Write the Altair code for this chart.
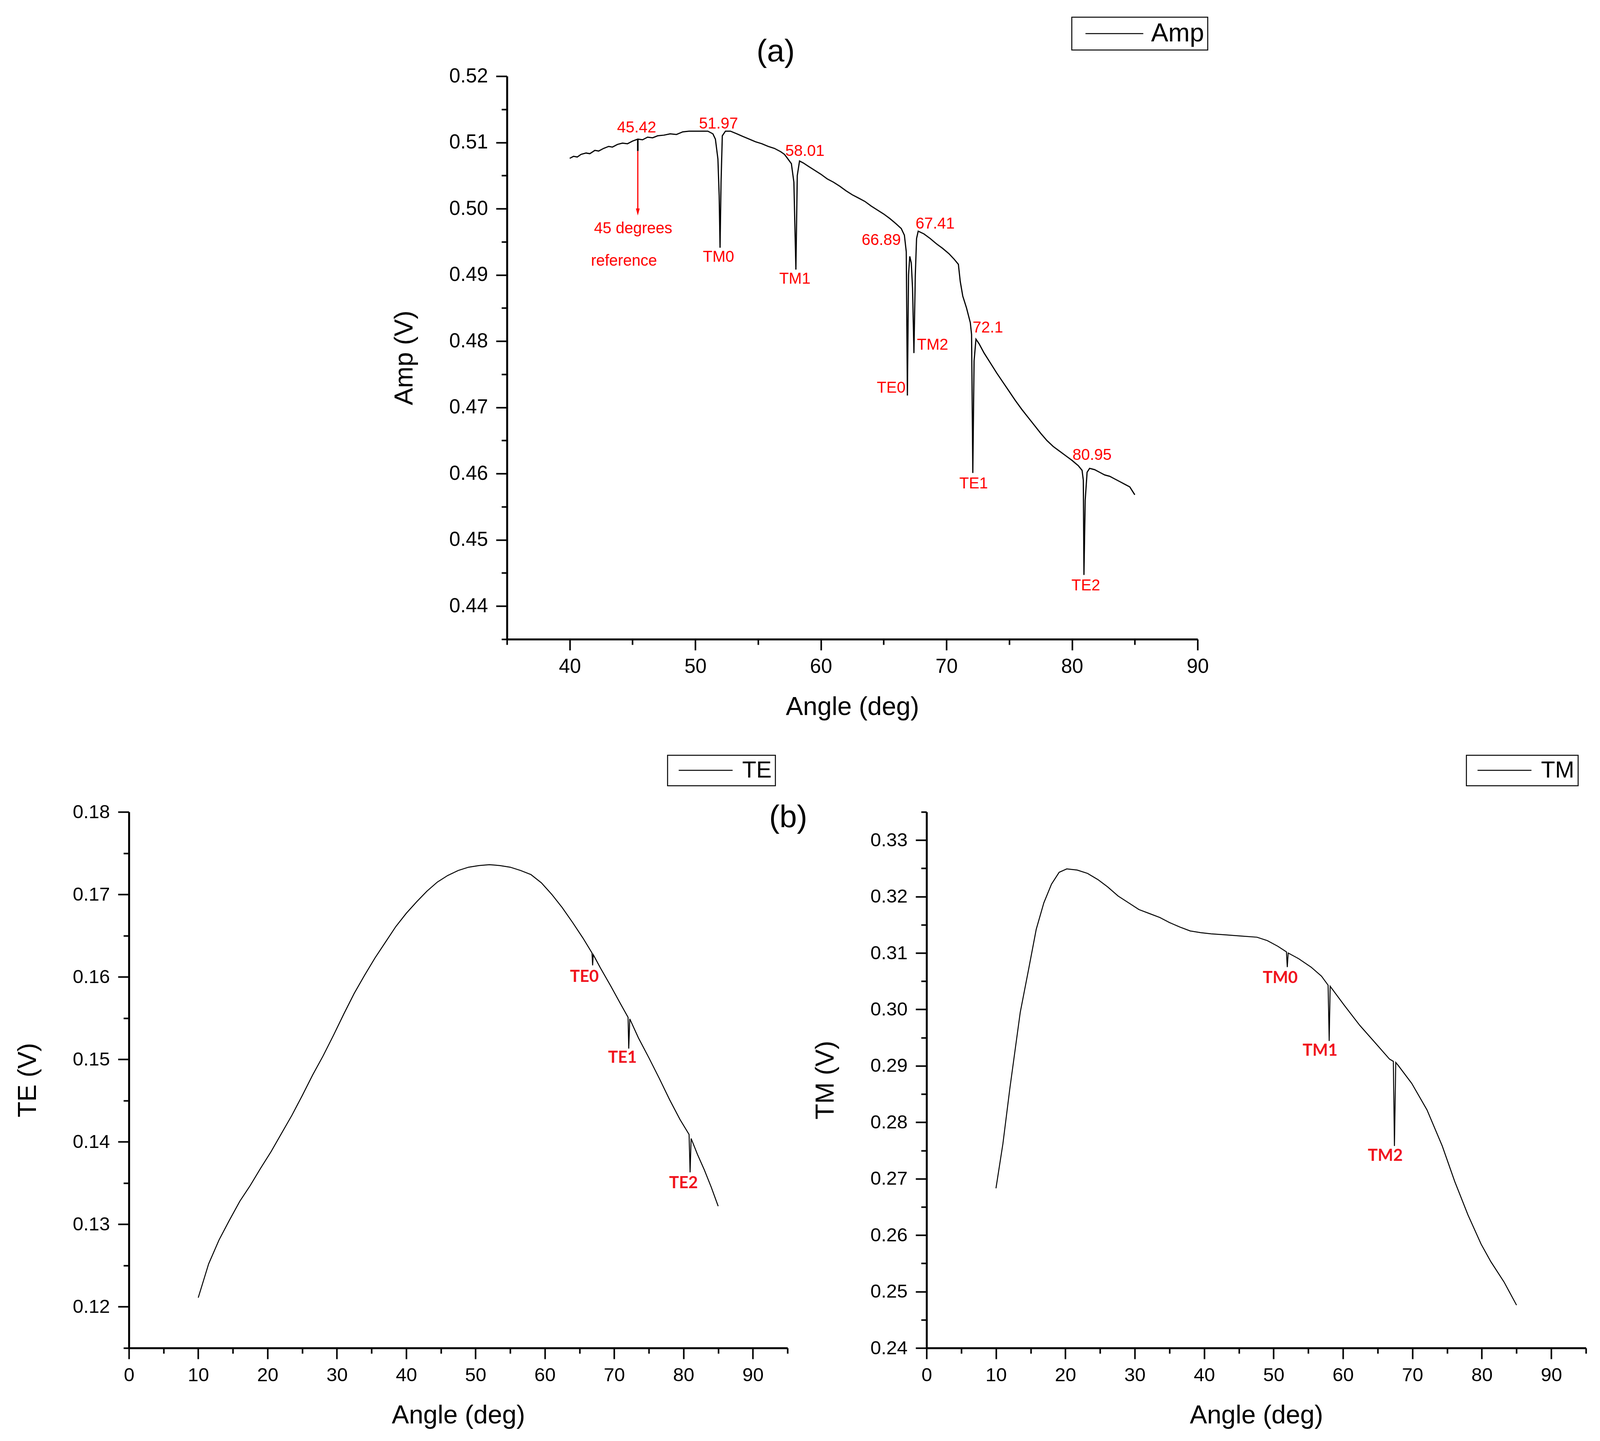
import altair as alt
import pandas as pd

FONT = "Liberation Sans"

# ---------------- panel (a): amplitude ----------------
amp_angle = [40.0, 40.3, 40.6, 40.9, 41.3, 41.6, 42.0, 42.3, 42.7, 43.1, 43.4, 43.8,
             44.2, 44.6, 45.0, 45.42, 45.8, 46.2, 46.6, 47.0, 47.5, 48.0, 48.5, 49.0,
             49.5, 50.0, 50.5, 51.0, 51.4, 51.6, 51.8, 51.9, 51.97, 52.05, 52.15, 52.4,
             52.8, 53.3, 53.8, 54.3, 54.8, 55.3, 55.8, 56.3, 56.8, 57.1, 57.3, 57.65,
             57.85, 58.01, 58.12, 58.3, 58.6, 59.0, 59.5, 60.0, 60.5, 61.0, 61.5, 62.0,
             62.5, 63.0, 63.5, 64.0, 64.5, 65.0, 65.5, 66.0, 66.4, 66.65, 66.8, 66.89,
             66.98, 67.08, 67.2, 67.3, 67.41, 67.52, 67.62, 67.75, 68.2, 68.7, 69.2, 69.7,
             70.2, 70.6, 70.95, 71.1, 71.3, 71.6, 71.9, 72.0, 72.1, 72.2, 72.35, 72.6,
             73.0, 73.5, 74.0, 74.5, 75.0, 75.5, 76.0, 76.5, 77.0, 77.5, 78.0, 78.5,
             79.0, 79.5, 80.0, 80.5, 80.8, 80.9, 80.95, 81.05, 81.2, 81.4, 81.8, 82.2,
             82.6, 83.0, 83.4, 83.8, 84.2, 84.6, 85.0]
amp_volt = [0.5076, 0.5079, 0.5078, 0.5082, 0.5084, 0.5083, 0.5088, 0.5087, 0.5091, 0.5094, 0.5093, 0.5097,
            0.5099, 0.5098, 0.5102, 0.5105, 0.5104, 0.5108, 0.5107, 0.5110, 0.5111, 0.5113, 0.5112, 0.5116,
            0.5117, 0.5117, 0.5117, 0.5117, 0.5113, 0.5105, 0.5075, 0.5020, 0.4941, 0.5040, 0.5110, 0.5117,
            0.5117, 0.5113, 0.5109, 0.5105, 0.5101, 0.5098, 0.5094, 0.5091, 0.5086, 0.5082, 0.5077, 0.5068,
            0.5040, 0.4908, 0.5050, 0.5072, 0.5069, 0.5064, 0.5058, 0.5052, 0.5045, 0.5040, 0.5034, 0.5027,
            0.5021, 0.5016, 0.5011, 0.5004, 0.4998, 0.4992, 0.4985, 0.4977, 0.4970, 0.4960, 0.4935, 0.4718,
            0.4900, 0.4928, 0.4918, 0.4880, 0.4782, 0.4900, 0.4955, 0.4966, 0.4962, 0.4955, 0.4947, 0.4940,
            0.4932, 0.4924, 0.4916, 0.4890, 0.4868, 0.4850, 0.4828, 0.4810, 0.4601, 0.4770, 0.4803, 0.4796,
            0.4782, 0.4767, 0.4752, 0.4738, 0.4724, 0.4710, 0.4697, 0.4685, 0.4673, 0.4661, 0.4650, 0.4641,
            0.4634, 0.4627, 0.4620, 0.4612, 0.4605, 0.4590, 0.4447, 0.4560, 0.4602, 0.4608, 0.4606, 0.4602,
            0.4598, 0.4596, 0.4592, 0.4588, 0.4584, 0.4580, 0.4568]
amp_note_text = ["45.42", "51.97", "58.01", "45 degrees", "reference", "TM0", "TM1",
                 "66.89", "67.41", "TM2", "TE0", "72.1", "TE1", "80.95", "TE2"]
amp_note_x = [45.33, 51.85, 58.73, 45.05, 44.32, 51.85, 57.93,
              64.81, 69.1, 68.9, 65.6, 73.3, 72.17, 81.6, 81.1]
amp_note_y = [0.5122, 0.5128, 0.5087, 0.4970, 0.4921, 0.4927, 0.4894,
              0.4952, 0.4977, 0.4794, 0.4729, 0.4820, 0.4585, 0.4628, 0.4431]
arrow_x = 45.42
arrow_top = 0.5105
arrow_split = 0.5087
arrow_end = 0.4998
arrow_head = 0.4995

a_x_major = [40, 50, 60, 70, 80, 90]
a_x_minor = [35, 45, 55, 65, 75, 85]
a_y_major = [0.44, 0.45, 0.46, 0.47, 0.48, 0.49, 0.50, 0.51, 0.52]
a_y_minor = [0.435, 0.445, 0.455, 0.465, 0.475, 0.485, 0.495, 0.505, 0.515]

# ---------------- panel (b): TE ----------------
te_angle = [10.0, 11.5, 13.0, 14.5, 16.0, 17.5, 19.0, 20.5, 22.0, 23.5, 25.0, 26.5,
            28.0, 29.5, 31.0, 32.5, 34.0, 35.5, 37.0, 38.5, 40.0, 41.5, 43.0, 44.5,
            46.0, 47.5, 49.0, 50.5, 52.0, 53.5, 55.0, 56.5, 58.0, 59.5, 61.0, 62.5,
            64.0, 65.5, 66.8, 66.89, 66.98, 68.0, 69.5, 71.0, 72.0, 72.1, 72.25, 73.5,
            75.0, 76.5, 78.0, 79.5, 80.8, 80.95, 81.1, 82.0, 83.0, 84.0, 85.0]
te_volt = [0.1211, 0.1252, 0.1281, 0.1305, 0.1328, 0.1347, 0.1368, 0.1388, 0.1410, 0.1432, 0.1456, 0.1481,
           0.1504, 0.1529, 0.1555, 0.1580, 0.1602, 0.1623, 0.1642, 0.1661, 0.1677, 0.1691, 0.1704, 0.1715,
           0.1723, 0.1729, 0.1733, 0.1735, 0.1736, 0.1735, 0.1733, 0.1729, 0.1724, 0.1714, 0.1700, 0.1684,
           0.1666, 0.1647, 0.1629, 0.1614, 0.1627, 0.1611, 0.1589, 0.1566, 0.1551, 0.1513, 0.1549, 0.1526,
           0.1502, 0.1477, 0.1451, 0.1427, 0.1409, 0.1363, 0.1404, 0.1385, 0.1366, 0.1345, 0.1322]
te_note_text = ["TE0", "TE1", "TE2"]
te_note_x = [65.7, 71.2, 80.0]
te_note_y = [0.1600, 0.1502, 0.1350]

# ---------------- panel (c): TM ----------------
tm_angle = [10.0, 11.0, 12.0, 13.5, 14.7, 15.8, 16.9, 18.0, 19.1, 20.2, 21.7, 23.2,
            24.7, 26.1, 27.6, 29.1, 30.6, 32.1, 33.6, 35.0, 36.5, 38.0, 39.5, 41.0,
            43.2, 45.4, 47.6, 49.1, 50.6, 51.85, 51.97, 52.1, 53.6, 55.4, 56.9, 57.85,
            58.01, 58.15, 60.2, 62.4, 64.7, 66.7, 67.25, 67.41, 67.6, 68.0, 69.9, 72.1,
            74.3, 76.1, 78.0, 79.9, 81.3, 83.2, 85.0]
tm_volt = [0.2683, 0.2762, 0.2860, 0.2995, 0.3071, 0.3142, 0.3189, 0.3222, 0.3243, 0.3249, 0.3247, 0.3241,
           0.3230, 0.3217, 0.3201, 0.3189, 0.3177, 0.3170, 0.3163, 0.3154, 0.3146, 0.3139, 0.3136, 0.3134,
           0.3132, 0.3130, 0.3128, 0.3122, 0.3112, 0.3102, 0.3075, 0.3100, 0.3090, 0.3075, 0.3059, 0.3043,
           0.2944, 0.3041, 0.3007, 0.2972, 0.2940, 0.2912, 0.2908, 0.2758, 0.2906, 0.2900, 0.2869, 0.2822,
           0.2758, 0.2695, 0.2636, 0.2584, 0.2553, 0.2517, 0.2476]
tm_note_text = ["TM0", "TM1", "TM2"]
tm_note_x = [50.96, 56.7, 66.1]
tm_note_y = [0.3056, 0.2927, 0.2741]

bc_x_major = [0, 10, 20, 30, 40, 50, 60, 70, 80, 90]
bc_x_minor = [5, 15, 25, 35, 45, 55, 65, 75, 85, 95]
b_y_major = [0.12, 0.13, 0.14, 0.15, 0.16, 0.17, 0.18]
b_y_minor = [0.115, 0.125, 0.135, 0.145, 0.155, 0.165, 0.175]
c_y_major = [0.24, 0.25, 0.26, 0.27, 0.28, 0.29, 0.30, 0.31, 0.32, 0.33]
c_y_minor = [0.245, 0.255, 0.265, 0.275, 0.285, 0.295, 0.305, 0.315, 0.325, 0.335]

panel_label_text = ["(a)", "(b)"]


def major(values, orient, title, fmt, size):
    pad = 17 if orient == "bottom" else 21
    tpad = 46 if orient == "bottom" else 80
    return alt.Axis(values=values, orient=orient, title=title, format=fmt,
                    tickSize=28, tickWidth=4, domainWidth=5, labelFontSize=size,
                    labelPadding=pad, titleFontSize=66, titlePadding=tpad, grid=False,
                    labelFlush=False, labelOverlap=False)


def minor(values, orient):
    return alt.Axis(values=values, orient=orient, title=None, labels=False,
                    domain=False, tickSize=14, tickWidth=4, grid=False)


def legend(x, y, line_len, sym_off, lab_off, font_size):
    # legend row height follows the symbol size, so the sample line is a
    # wide custom path drawn inside a small (50 px) symbol
    half = line_len / 50
    extra = (line_len - 50) / 2
    return alt.Legend(orient="none", legendX=x, legendY=y, title=None,
                      symbolType=f"M-{half:.2f},0L{half:.2f},0", symbolSize=2500,
                      symbolStrokeWidth=2.5, symbolOffset=sym_off + extra,
                      labelOffset=lab_off + extra, labelFontSize=font_size,
                      labelFont=FONT, labelColor="black", padding=9,
                      strokeColor="black", fillColor="white")


def panel(angle, volt, name, xdom, ydom, xmaj, xmin, ymaj, ymin, ytitle, size, line_w, leg):
    df = pd.DataFrame({"angle": angle, "volt": volt, "series": name})
    xs = alt.Scale(domain=xdom, nice=False, zero=False)
    ys = alt.Scale(domain=ydom, nice=False, zero=False)
    line = alt.Chart(df).mark_line(strokeWidth=line_w).encode(
        x=alt.X("angle:Q", scale=xs, axis=major(xmaj, "bottom", "Angle (deg)", "d", size)),
        y=alt.Y("volt:Q", scale=ys, axis=major(ymaj, "left", ytitle, ".2f", size)),
        color=alt.Color("series:N", scale=alt.Scale(range=["black"]), legend=leg),
    )
    ticks = alt.Chart(df).mark_point(opacity=0).encode(
        x=alt.X("angle:Q", scale=xs, axis=minor(xmin, "bottom")),
        y=alt.Y("volt:Q", scale=ys, axis=minor(ymin, "left")),
    )
    return line, ticks, xs, ys


# panel (a)
line_a, ticks_a, xs_a, ys_a = panel(
    amp_angle, amp_volt, "Amp", [35, 90], [0.435, 0.52], a_x_major, a_x_minor,
    a_y_major, a_y_minor, "Amp (V)", 51, 3, legend(1446, -151, 148, 18, 12, 66))
notes_a = alt.Chart(pd.DataFrame({"x": amp_note_x, "y": amp_note_y, "t": amp_note_text})).mark_text(
    font=FONT, fontSize=40, color="#ff0000").encode(
    x=alt.X("x:Q", scale=xs_a, axis=None), y=alt.Y("y:Q", scale=ys_a, axis=None), text="t:N")
arrow_df = pd.DataFrame({"x": [arrow_x], "y0": [arrow_top], "y1": [arrow_split],
                         "y2": [arrow_end], "yh": [arrow_head]})
arrow_black = alt.Chart(arrow_df).mark_rule(color="black", strokeWidth=4).encode(
    x=alt.X("x:Q", scale=xs_a, axis=None), y=alt.Y("y0:Q", scale=ys_a, axis=None), y2="y1:Q")
arrow_red = alt.Chart(arrow_df).mark_rule(color="#ff0000", strokeWidth=3).encode(
    x=alt.X("x:Q", scale=xs_a, axis=None), y=alt.Y("y1:Q", scale=ys_a, axis=None), y2="y2:Q")
arrow_tip = alt.Chart(arrow_df).mark_point(
    shape="M-0.27,-0.5L0.27,-0.5L0,0.5Z", size=1300, filled=True, color="#ff0000", opacity=1).encode(
    x=alt.X("x:Q", scale=xs_a, axis=None), y=alt.Y("yh:Q", scale=ys_a, axis=None))
label_a = alt.Chart(pd.DataFrame({"x": [56.4], "y": [0.52368], "t": [panel_label_text[0]]})).mark_text(
    font=FONT, fontSize=80, color="black").encode(
    x=alt.X("x:Q", scale=xs_a, axis=None), y=alt.Y("y:Q", scale=ys_a, axis=None), text="t:N")
chart_a = alt.layer(line_a, ticks_a, arrow_black, arrow_red, arrow_tip, notes_a, label_a).resolve_axis(
    x="independent", y="independent").properties(width=1768, height=1441)

# panel (b)
line_b, ticks_b, xs_b, ys_b = panel(
    te_angle, te_volt, "TE", [0, 95], [0.115, 0.18], bc_x_major, bc_x_minor,
    b_y_major, b_y_minor, "TE (V)", 49, 2.5, legend(1379, -145, 138, 15, 20, 59))
notes_b = alt.Chart(pd.DataFrame({"x": te_note_x, "y": te_note_y, "t": te_note_text})).mark_text(
    font="Lato", fontWeight="bold", fontSize=42, color="#f0141e").encode(
    x=alt.X("x:Q", scale=xs_b, axis=None), y=alt.Y("y:Q", scale=ys_b, axis=None), text="t:N")
label_b = alt.Chart(pd.DataFrame({"x": [95.1], "y": [0.1793], "t": [panel_label_text[1]]})).mark_text(
    font=FONT, fontSize=80, color="black").encode(
    x=alt.X("x:Q", scale=xs_b, axis=None), y=alt.Y("y:Q", scale=ys_b, axis=None), text="t:N")
chart_b = alt.layer(line_b, ticks_b, notes_b, label_b).resolve_axis(
    x="independent", y="independent").properties(width=1686, height=1372)

# panel (c)
line_c, ticks_c, xs_c, ys_c = panel(
    tm_angle, tm_volt, "TM", [0, 95], [0.24, 0.335], bc_x_major, bc_x_minor,
    c_y_major, c_y_minor, "TM (V)", 49, 2.5, legend(1382, -145, 138, 15, 20, 59))
notes_c = alt.Chart(pd.DataFrame({"x": tm_note_x, "y": tm_note_y, "t": tm_note_text})).mark_text(
    font="Lato", fontWeight="bold", fontSize=42, color="#f0141e").encode(
    x=alt.X("x:Q", scale=xs_c, axis=None), y=alt.Y("y:Q", scale=ys_c, axis=None), text="t:N")
chart_c = alt.layer(line_c, ticks_c, notes_c).resolve_axis(
    x="independent", y="independent").properties(width=1688, height=1372)

bottom = alt.hconcat(chart_b, chart_c, spacing=13).resolve_scale(color="independent")

chart = alt.vconcat(chart_a, bottom, spacing=89, center=True).resolve_scale(
    color="independent").configure_view(stroke=None).configure_axis(
    labelFont=FONT, titleFont=FONT, titleFontWeight="normal", labelColor="black",
    titleColor="black", tickColor="black", domainColor="black").configure_legend(
    strokeWidth=2.5).properties(
    padding={"left": 30, "top": 34, "right": 10, "bottom": 10}, background="white")

chart.save("out.html", embed_options={"renderer": "svg", "actions": False})
